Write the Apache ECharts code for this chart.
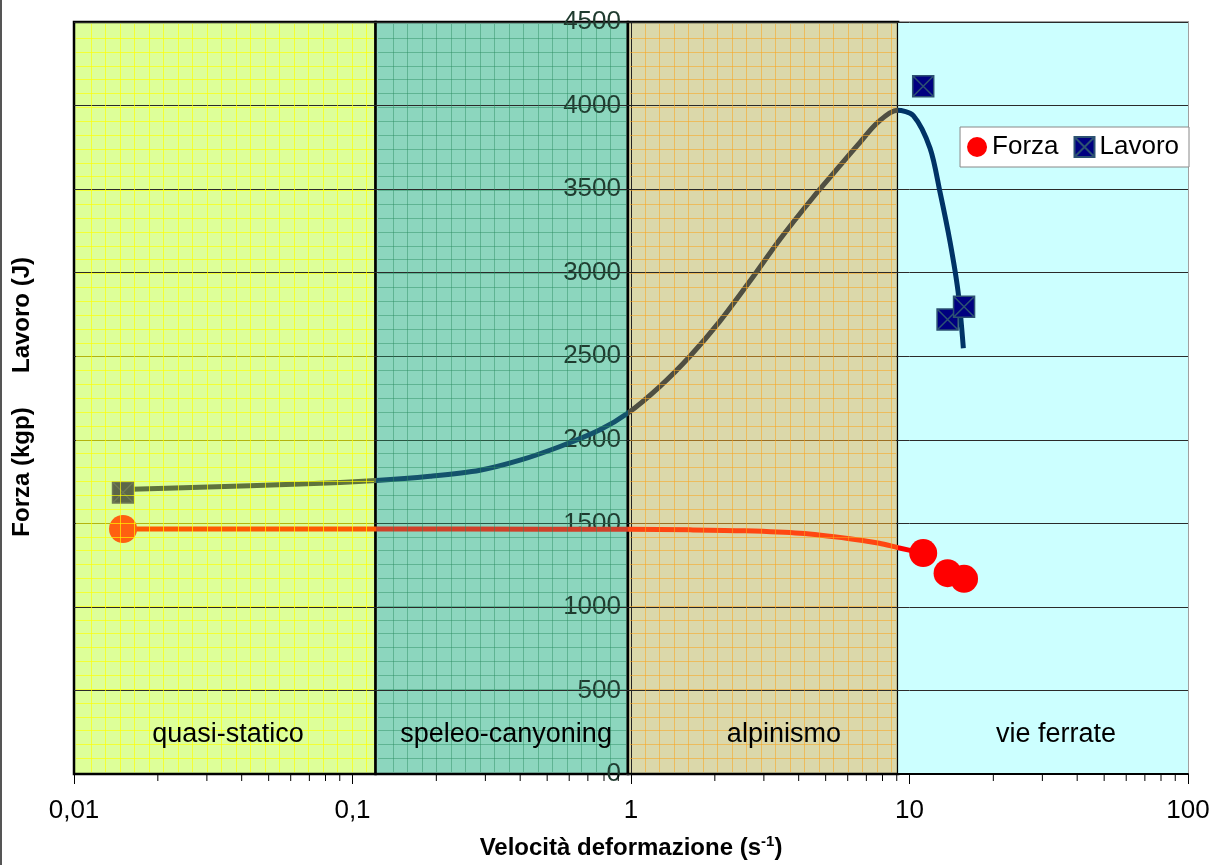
<!DOCTYPE html>
<html>
<head>
<meta charset="utf-8">
<script src="https://cdn.jsdelivr.net/npm/echarts@6.0.0/dist/echarts.min.js"></script>
<style>
html,body{margin:0;padding:0;background:#fff;}
#chart{width:1215px;height:865px;}
</style>
</head>
<body>
<div id="chart"></div>
<script>
// ---------- data ----------
const bandNames = ['quasi-statico', 'speleo-canyoning', 'alpinismo', 'vie ferrate'];
const bandFrom = [0.01, 0.121, 0.975, 9.1];
const bandTo = [0.121, 0.975, 9.1, 100];
const bandLabelAt = [0.0357, 0.356, 3.54, 33.6];
const bandLabelLevel = 236;

const xTickLabels = ['0,01', '0,1', '1', '10', '100'];
const xMinorTicks = [0.02,0.03,0.04,0.05,0.06,0.07,0.08,0.09,
                     0.2,0.3,0.4,0.5,0.6,0.7,0.8,0.9,
                     2,3,4,5,6,7,8,9,
                     20,30,40,50,60,70,80,90];

const pointX = [0.015, 11.2, 13.7, 15.7];
const forzaY = [1466, 1322, 1202, 1168];
const lavoroY = [1685, 4115, 2720, 2796];

const forzaCurveX = [0.015, 0.1214, 0.5, 0.978, 1.628, 2.567, 4.045, 6.1, 7.8, 9.1, 11.2];
const forzaCurveY = [1466, 1466, 1465, 1464, 1461, 1455, 1440, 1408, 1381, 1354, 1321];

const lavoroCurveX = [0.015, 0.0283, 0.0648, 0.1214, 0.1898, 0.2869, 0.3995, 0.5561, 0.7739, 0.9754,
                      1.271, 1.628, 2.087, 2.675, 3.428, 4.503, 5.628, 6.643, 7.644, 9.02,
                      10.32, 11.85, 12.87, 13.98, 14.94, 15.61];
const lavoroCurveY = [1702, 1716, 1735, 1757, 1782, 1818, 1878, 1960, 2060, 2160,
                      2320, 2500, 2710, 2950, 3200, 3450, 3640, 3780, 3895, 3972,
                      3940, 3745, 3482, 3185, 2887, 2548];

// ---------- styles ----------
const FONT = '"Liberation Sans", Arial, sans-serif';
const bandFill = ['#ddff99', '#8cd6be', '#dbd8aa', '#ccffff'];
const bandGridColor = ['rgba(255,255,0,0.65)', 'rgba(40,140,95,0.45)', 'rgba(250,165,30,0.55)', null];
const lavoroSegColors = ['#5f733c', '#14536c', '#4f4f42', '#003366'];
const forzaSegColors = ['#ff5a00', '#d0402a', '#ff4612', '#ff0000'];

const bandData = bandNames.map((n, i) => [bandFrom[i], bandTo[i], bandLabelAt[i], bandLabelLevel, i]);

function pieces(colors) {
  return [
    { lt: bandTo[0], color: colors[0] },
    { gte: bandFrom[1], lt: bandTo[1], color: colors[1] },
    { gte: bandFrom[2], lt: bandTo[2], color: colors[2] },
    { gte: bandFrom[3], color: colors[3] }
  ];
}

function gridPath(x0, y0, x1, y1) {
  // graph-paper texture inside a band
  let d = '';
  const hStep = (y1 - y0) / 54;
  for (let k = 1; k < 54; k++) {
    const y = Math.round(y0 + k * hStep) + 0.5;
    d += 'M' + x0 + ' ' + y + 'L' + x1 + ' ' + y;
  }
  for (let x = x0 + 14.5; x < x1 - 2; x += 14.5) {
    const xx = Math.round(x) + 0.5;
    d += 'M' + xx + ' ' + y0 + 'L' + xx + ' ' + y1;
  }
  return d;
}

const squareX = 'path://M0,0L20,0L20,20L0,20Z M0,0L20,20 M20,0L0,20';

const forzaData = pointX.map((x, i) => i === 0
  ? { value: [x, forzaY[i]], itemStyle: { color: '#ff6010' } }
  : { value: [x, forzaY[i]] });
const lavoroData = pointX.map((x, i) => i === 0
  ? { value: [x, lavoroY[i]], itemStyle: { color: '#5c6648', borderColor: '#6f7a55' } }
  : { value: [x, lavoroY[i]] });

const chart = echarts.init(document.getElementById('chart'), null, { renderer: 'canvas' });

const option = {
  animation: false,
  backgroundColor: '#ffffff',
  grid: {
    left: 74, right: 27, top: 22, bottom: 87,
    show: true, backgroundColor: '#ccffff', borderColor: '#a0a0a0', borderWidth: 2, z: 0
  },
  xAxis: {
    type: 'log', logBase: 10, min: 0.01, max: 100, z: 2,
    axisLine: { show: true, lineStyle: { color: '#000', width: 2 } },
    axisTick: { show: true, length: 10, lineStyle: { color: '#000', width: 1 } },
    minorTick: { show: false },
    splitLine: { show: false },
    axisLabel: {
      margin: 24, fontSize: 26, color: '#000', fontFamily: FONT,
      formatter: v => xTickLabels[Math.round(Math.log10(v)) + 2]
    },
    name: '{b|Velocità deformazione (s}{sup|-1}{b|)}',
    nameLocation: 'middle', nameGap: 60,
    nameTextStyle: {
      rich: {
        b: { fontSize: 24, fontWeight: 'bold', fontFamily: FONT, color: '#000', lineHeight: 28 },
        sup: { fontSize: 15, fontWeight: 'bold', fontFamily: FONT, color: '#000', verticalAlign: 'top', lineHeight: 16 }
      }
    }
  },
  yAxis: {
    type: 'value', min: 0, max: 4500, interval: 500, z: 2,
    position: 'left', offset: -557,
    axisLine: { show: true, lineStyle: { color: '#222', width: 1 } },
    axisTick: { show: true, length: 5, lineStyle: { color: '#222' } },
    splitLine: { show: true, lineStyle: { color: '#2a2a2a', width: 1 } },
    axisLabel: { margin: 10, fontSize: 26, color: '#1f3b2f', fontFamily: FONT, showMinLabel: true, showMaxLabel: true,
      formatter: v => String(v) }
  },
  legend: {
    data: ['Forza', 'Lavoro'],
    right: 26, top: 127,
    backgroundColor: '#ffffff', borderColor: '#888', borderWidth: 1, borderRadius: 0,
    padding: [7, 10, 7, 7],
    itemWidth: 20, itemHeight: 20, itemGap: 15,
    textStyle: { fontSize: 26, color: '#000', fontFamily: FONT },
    z: 10
  },
  visualMap: [
    { type: 'piecewise', show: false, seriesIndex: 2, dimension: 0, pieces: pieces(lavoroSegColors) },
    { type: 'piecewise', show: false, seriesIndex: 1, dimension: 0, pieces: pieces(forzaSegColors) }
  ],
  graphic: [
    { type: 'rect', shape: { x: 0, y: 0, width: 2, height: 865 }, style: { fill: '#555' }, silent: true },
    { type: 'text', x: 22, y: 472, rotation: Math.PI / 2,
      style: { text: 'Forza (kgp)', font: 'bold 24px ' + FONT, fill: '#000', align: 'center', verticalAlign: 'middle' } },
    { type: 'text', x: 22, y: 315, rotation: Math.PI / 2,
      style: { text: 'Lavoro (J)', font: 'bold 24px ' + FONT, fill: '#000', align: 'center', verticalAlign: 'middle' } }
  ],
  series: [
    { // 0: band fills (under the data)
      type: 'custom', name: 'bands', silent: true, z: 1, clip: false,
      encode: { x: [0, 1, 2], y: 3 },
      data: bandData,
      renderItem: function (params, api) {
        const i = api.value(4);
        const p0 = api.coord([api.value(0), 4500]);
        const p1 = api.coord([api.value(1), 0]);
        const shape = { x: p0[0], y: p0[1], width: p1[0] - p0[0], height: p1[1] - p0[1] };
        if (i === 3) return { type: 'rect', shape: shape, style: { fill: bandFill[i] } };
        return { type: 'rect', shape: shape, style: { fill: bandFill[i], stroke: '#000', lineWidth: 2.5 } };
      }
    },
    { // 1: Forza trend
      type: 'line', name: 'Forza trend', z: 3, smooth: 0.3, showSymbol: false, symbol: 'none',
      data: forzaCurveX.map((x, i) => [x, forzaCurveY[i]]),
      lineStyle: { width: 5 }
    },
    { // 2: Lavoro trend
      type: 'line', name: 'Lavoro trend', z: 3, smooth: 0.3, showSymbol: false, symbol: 'none',
      data: lavoroCurveX.map((x, i) => [x, lavoroCurveY[i]]),
      lineStyle: { width: 5 }
    },
    { // 3: Forza points
      type: 'scatter', name: 'Forza', z: 4, symbol: 'circle', symbolSize: 28,
      itemStyle: { color: '#ff0000', opacity: 1 },
      data: forzaData
    },
    { // 4: Lavoro points
      type: 'scatter', name: 'Lavoro', z: 4, symbol: squareX, symbolSize: 21,
      itemStyle: { color: '#000080', borderColor: '#2d5272', borderWidth: 1.5, opacity: 1 },
      data: lavoroData
    },
    { // 5: band grid texture + labels (over the data)
      type: 'custom', name: 'bandOverlay', silent: true, z: 5, clip: false,
      encode: { x: [0, 1, 2], y: 3 },
      data: bandData,
      renderItem: function (params, api) {
        const i = api.value(4);
        const p0 = api.coord([api.value(0), 4500]);
        const p1 = api.coord([api.value(1), 0]);
        const lp = api.coord([api.value(2), api.value(3)]);
        const children = [];
        if (bandGridColor[i]) {
          children.push({ type: 'path',
            shape: { pathData: gridPath(Math.round(p0[0]) + 2, Math.round(p0[1]) + 2, Math.round(p1[0]) - 2, Math.round(p1[1]) - 2) },
            style: { fill: null, stroke: bandGridColor[i], lineWidth: 1 } });
        }
        children.push({ type: 'text', x: lp[0], y: lp[1],
          style: { text: bandNames[i], font: '27px ' + FONT, fill: '#000', align: 'center', verticalAlign: 'middle' } });
        return { type: 'group', children: children };
      }
    },
    { // 6: minor ticks of the log axis
      type: 'custom', name: 'minorTicks', silent: true, z: 6, clip: false,
      encode: { x: 0, y: 1 },
      data: xMinorTicks.map(v => [v, 0]),
      renderItem: function (params, api) {
        const p = api.coord([api.value(0), 0]);
        return { type: 'line', shape: { x1: p[0], y1: p[1], x2: p[0], y2: p[1] + 7 },
          style: { stroke: '#000', lineWidth: 1 } };
      }
    }
  ]
};
chart.setOption(option);
</script>
</body>
</html>
